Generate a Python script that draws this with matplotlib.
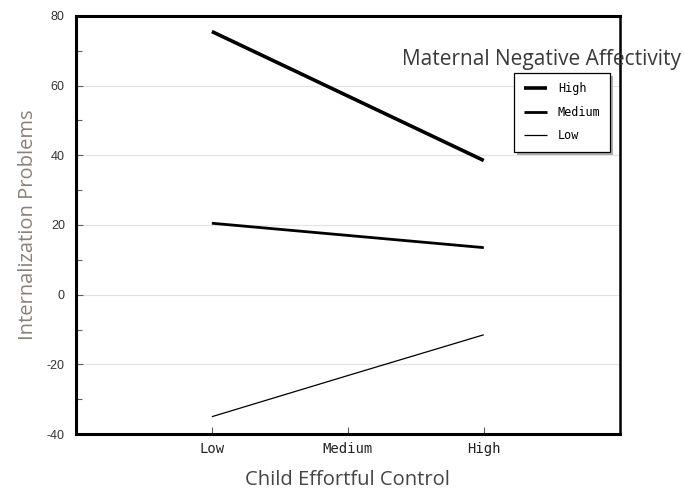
import matplotlib.pyplot as plt
from matplotlib.ticker import MultipleLocator
import matplotlib.patheffects as pe

plt.rcParams["axes.unicode_minus"] = False

# Simple slopes: internalization problems by child effortful control,
# at three levels of maternal negative affectivity
control_levels = ["Low", "Medium", "High"]
affect_levels = ["High", "Medium", "Low"]
high_na = [75.5, 57.0, 38.5]
medium_na = [20.5, 17.0, 13.5]
low_na = [-35.0, -23.2, -11.5]
line_widths = [2.6, 2.0, 0.9]

x = [1, 2, 3]

fig = plt.figure(figsize=(6.84, 4.95), dpi=100)
ax = fig.add_axes([0.111, 0.123, 0.795, 0.845])

for series, label, lw in zip([high_na, medium_na, low_na], affect_levels, line_widths):
    ax.plot(x, series, color="black", linewidth=lw, label=label, solid_capstyle="butt")

ax.set_xlim(0, 4)
ax.set_ylim(-40, 80)
ax.set_xticks(x)
ax.set_xticklabels(control_levels, family="DejaVu Sans Mono", fontsize=10, color="#222222")
ax.yaxis.set_major_locator(MultipleLocator(20))
ax.yaxis.set_minor_locator(MultipleLocator(10))
for lab in ax.get_yticklabels():
    lab.set_fontsize(9)
    lab.set_color("#333333")
    lab.set_family("Liberation Sans")

ax.tick_params(axis="both", which="both", direction="in", color="#556080", width=0.8)
ax.tick_params(axis="y", which="major", length=5, pad=8)
ax.tick_params(axis="y", which="minor", length=4)
ax.tick_params(axis="x", length=5, pad=6)

for y in [60, 40, 20, 0, -20]:
    ax.axhline(y, color="#e4e4e4", linewidth=0.9, zorder=0)

for side in ["left", "bottom", "top"]:
    ax.spines[side].set_linewidth(2.2)
ax.spines["right"].set_linewidth(1.8)

ax.set_xlabel("Child Effortful Control", fontsize=14.5, color="#444444",
              family="Open Sans", labelpad=10)
ax.set_ylabel("Internalization Problems", fontsize=14.5, color="#8a8078",
              family="Open Sans", labelpad=6)

fig.text(0.792, 0.879, "Maternal Negative Affectivity", fontsize=15, color="#3a3a3a",
         family="Open Sans", ha="center", va="center")

leg = ax.legend(loc="upper left", bbox_to_anchor=(0.795, 0.878), frameon=True,
                fancybox=False, shadow=False, prop={"family": "DejaVu Sans Mono", "size": 8.5},
                handlelength=2.0, handletextpad=0.9, labelspacing=0.9, borderpad=0.8,
                framealpha=1)
frame = leg.get_frame()
frame.set_facecolor("white")
frame.set_edgecolor("black")
frame.set_linewidth(0.9)
frame.set_path_effects([pe.SimplePatchShadow(offset=(2, -2), shadow_rgbFace="#999999", alpha=0.8),
                        pe.Normal()])

fig.savefig("out.png", dpi=100)
